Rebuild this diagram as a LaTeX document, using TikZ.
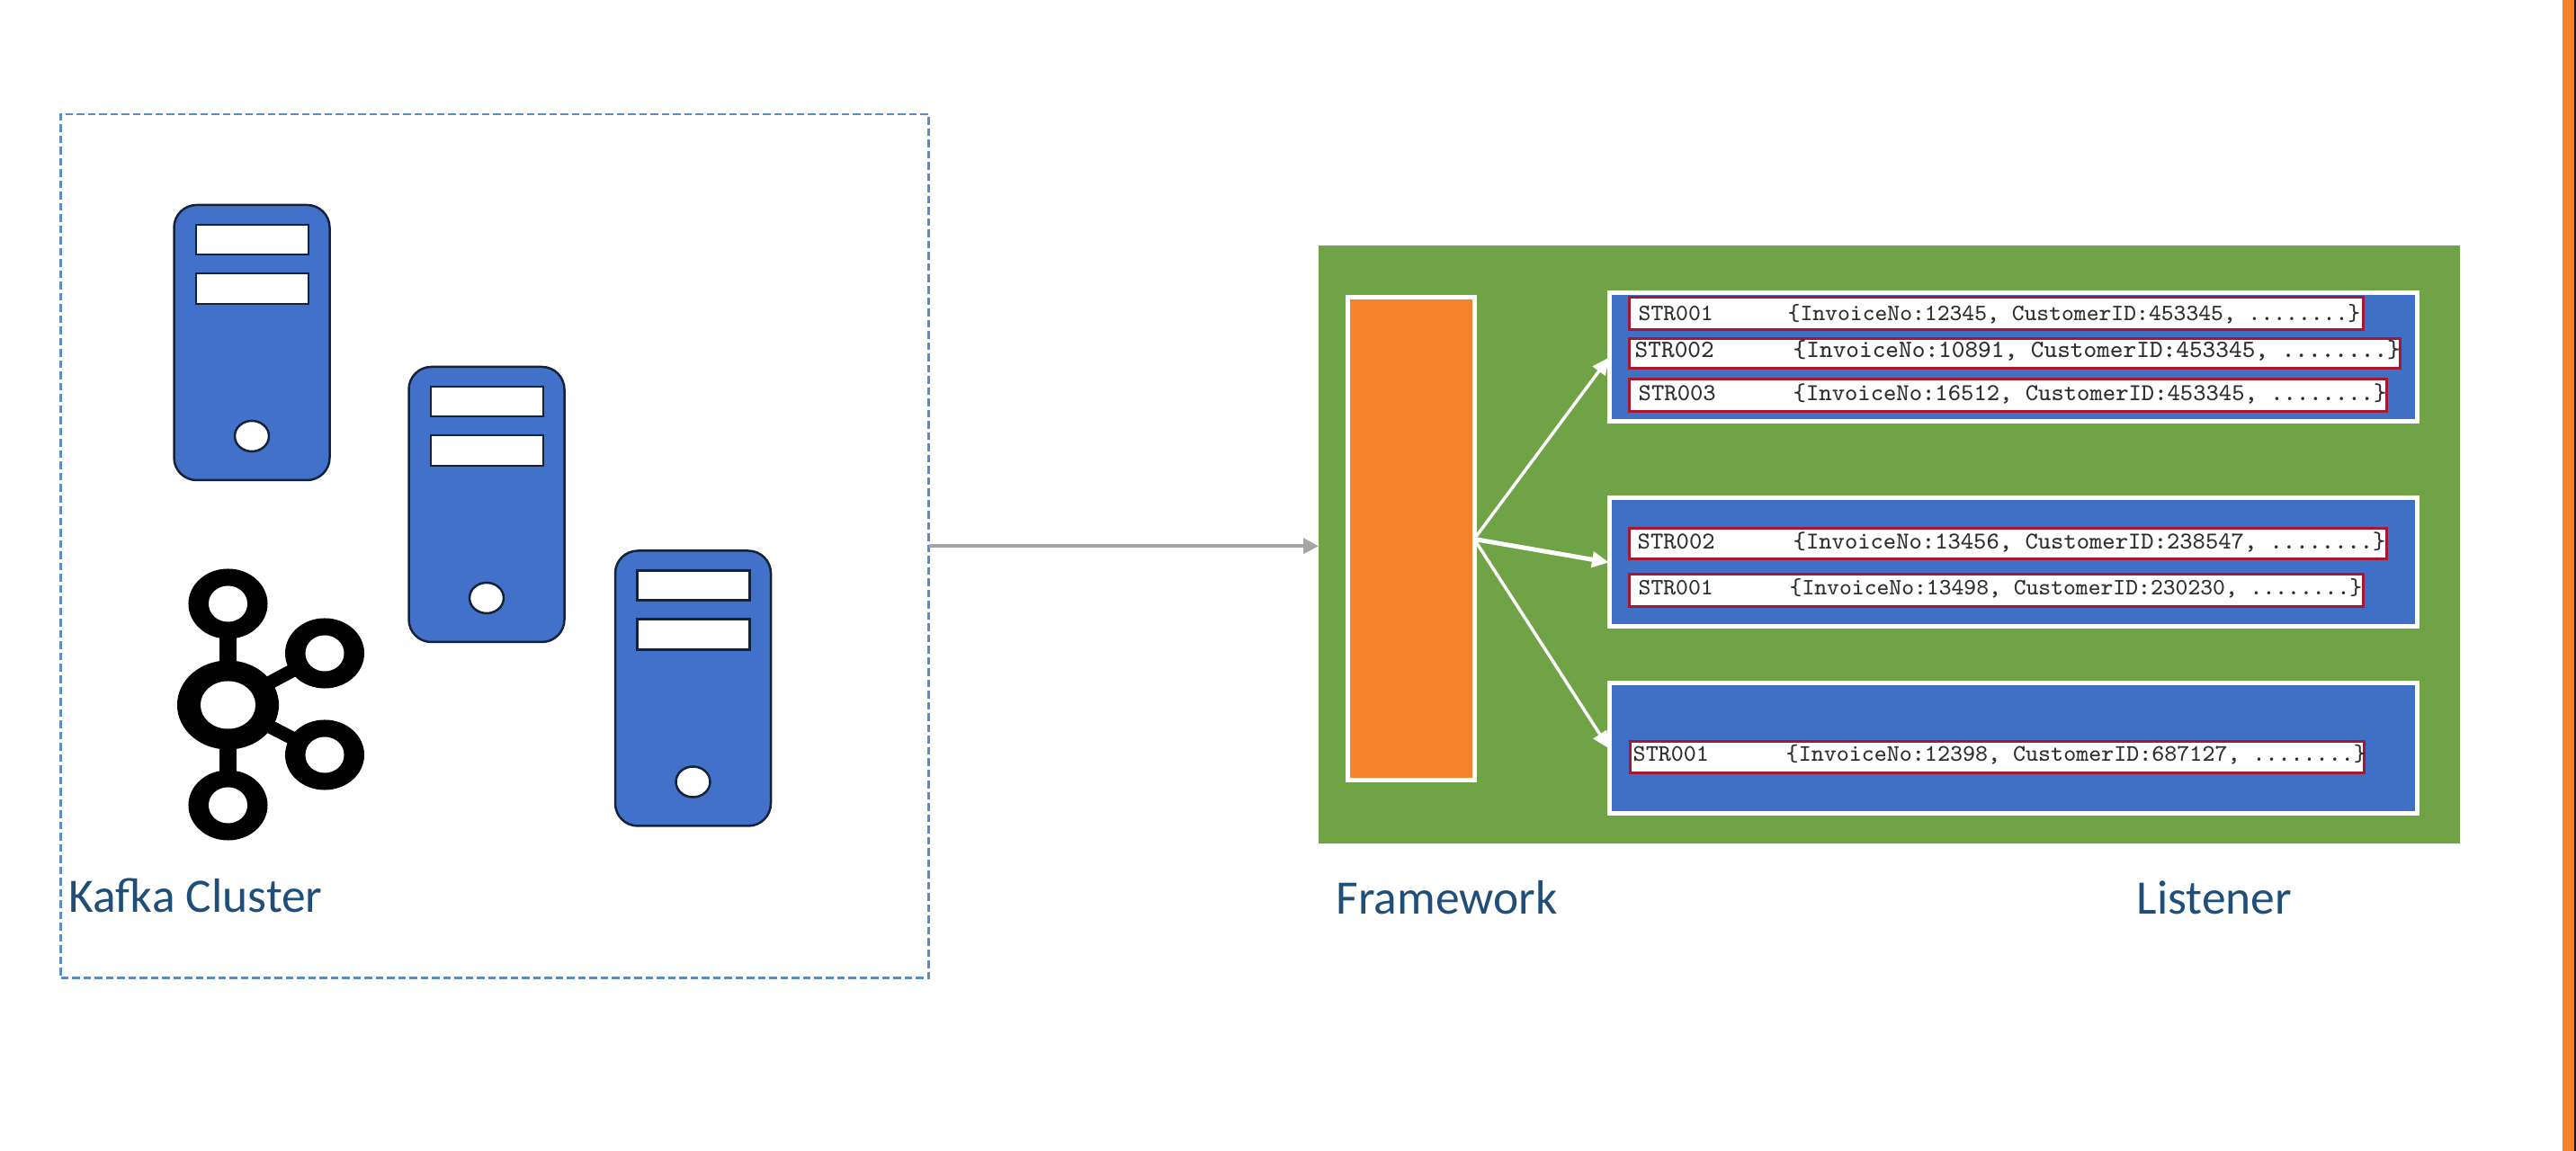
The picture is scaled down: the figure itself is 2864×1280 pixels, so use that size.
\documentclass[tikz,border=0pt]{standalone}
\usepackage{fontspec}
\setmainfont{Carlito}
\usetikzlibrary{arrows.meta,shapes.geometric,backgrounds}
\definecolor{srvblue}{HTML}{4171C8}
\definecolor{boxblue}{HTML}{3F70C6}
\definecolor{fwgreen}{HTML}{70A345}
\definecolor{fworange}{HTML}{F6822B}
\definecolor{dashblue}{HTML}{5B8CC8}
\definecolor{labelblue}{HTML}{1F4E79}
\definecolor{rowred}{HTML}{A5182F}
\definecolor{rowtext}{HTML}{2E2E2E}
\definecolor{flowgrey}{HTML}{A6A6A6}
\definecolor{srvline}{HTML}{15233A}
\definecolor{edgedark}{HTML}{2A1608}
\tikzset{
  px/.style={line width=#1*0.01cm},
  plain/.style={rectangle,inner sep=0pt,outer sep=0pt},
  cluster/.style={plain,draw=dashblue,px=2.2,dash pattern=on 0.085cm off 0.04cm},
  greenbg/.style={plain,fill=fwgreen},
  frameworkbar/.style={plain,fill=fworange,draw=white,px=5},
  listenerbox/.style={plain,fill=boxblue,draw=white,px=5},
  recordbox/.style={plain,fill=white,draw=rowred,px=3.5},
  sidebar/.style={plain,fill=fworange},
  sideedge/.style={plain,fill=edgedark},
  server/.style={plain,fill=srvblue,draw=srvline,px=2.5,rounded corners=0.25cm},
  slot/.style={plain,fill=white,draw=srvline,px=2.5},
  knob/.style={ellipse,inner sep=0pt,outer sep=0pt,fill=white,draw=srvline,px=2.5},
  logoblob/.style={ellipse,inner sep=0pt,outer sep=0pt,fill=black},
  logohole/.style={ellipse,inner sep=0pt,outer sep=0pt,fill=white},
  hub/.style={logoblob,minimum width=1.13cm,minimum height=0.99cm},
  hubhole/.style={logohole,minimum width=0.61cm,minimum height=0.53cm},
  spoke/.style={logoblob,minimum width=0.88cm,minimum height=0.78cm},
  spokehole/.style={logohole,minimum width=0.43cm,minimum height=0.40cm},
  caption/.style={inner sep=0pt,anchor=base west,text=labelblue,font=\fontsize{15.2}{17}\selectfont},
  flow/.style={draw=flowgrey,px=3.5,-{Triangle[length=0.17cm,width=0.17cm]}},
  fan/.style={draw=white,px=#1,-{Triangle[length=0.19cm,width=0.17cm]}},
}
% rectangular named node from its corners: name, style, x1, y1, x2, y2
\newcommand\cornerbox[6]{\node[#2,minimum width={(#5-#3)*0.01cm},minimum height={(#6-#4)*0.01cm}] (#1) at ({(#3+#5)/2},{(#4+#6)/2}) {};}
% the two texts of a record: name, id x, json x, baseline, font size pt, id, json
\newcommand\recordtext[7]{%
  \node[inner sep=0pt,anchor=base west,text=rowtext,font={\ttfamily\fontsize{#5}{8}\selectfont}] (#1id) at (#2,#4) {#6};
  \node[inner sep=0pt,anchor=base west,text=rowtext,font={\ttfamily\fontsize{#5}{8}\selectfont}] (#1data) at (#3,#4) {#7};}
% a server: name, dx, dy
\newcommand\serverat[3]{%
  \begin{scope}[shift={(#2,#3)}]
    \cornerbox{#1}{server}{193.5}{228}{366.5}{534}
    \cornerbox{#1a}{slot}{218}{250}{343}{283}
    \cornerbox{#1b}{slot}{218}{304}{343}{338}
    \node[knob,minimum width=0.38cm,minimum height=0.34cm] (#1c) at (280,485) {};
  \end{scope}}
\begin{document}
\begin{tikzpicture}[x=0.01cm,y=-0.01cm]
\useasboundingbox (0,0) rectangle (2864,1280);
\cornerbox{sidebar}{sidebar}{2849}{0}{2862}{1280}
\cornerbox{sideedge}{sideedge}{2862}{0}{2864}{1280}
% Kafka cluster
\cornerbox{clusterbox}{cluster}{67.5}{127}{1032.5}{1087.5}
\serverat{srvA}{0}{0}
\serverat{srvB}{261}{180}
\serverat{srvC}{490.5}{384.5}
% Kafka logo
\node[hub] (hub) at (253.5,784) {};
\node[spoke] (top) at (253.5,671.5) {};
\node[spoke] (rtop) at (361,726.5) {};
\node[spoke] (rbot) at (361,839.5) {};
\node[spoke] (bot) at (253.5,895.5) {};
\begin{scope}[on background layer]
  \draw[px=19] (hub.center) -- (top.center);
  \draw[px=19] (hub.center) -- (bot.center);
  \draw[px=15] (hub.center) -- (rtop.center);
  \draw[px=15] (hub.center) -- (rbot.center);
\end{scope}
\node[hubhole] (hubh) at (hub.center) {};
\node[spokehole] (toph) at (top.center) {};
\node[spokehole] (rtoph) at (rtop.center) {};
\node[spokehole] (rboth) at (rbot.center) {};
\node[spokehole] (both) at (bot.center) {};
\node[caption] (kafkalabel) at (76,1015) {Kafka Cluster};
% Framework
\cornerbox{green}{greenbg}{1466}{273}{2735}{938}
\cornerbox{bar}{frameworkbar}{1498}{331}{1639}{868}
\cornerbox{boxA}{listenerbox}{1789}{326}{2687}{469}
\cornerbox{boxB}{listenerbox}{1789}{554}{2687}{697}
\cornerbox{boxC}{listenerbox}{1789}{760}{2687}{905}
\cornerbox{recA}{recordbox}{1811.5}{330.5}{2627.5}{366.5}
\cornerbox{recB}{recordbox}{1811.5}{376.5}{2668.5}{409.5}
\cornerbox{recC}{recordbox}{1811.5}{421.5}{2653.5}{457.5}
\cornerbox{recD}{recordbox}{1811.5}{587.5}{2653.5}{621.5}
\cornerbox{recE}{recordbox}{1811.5}{638.5}{2627.5}{674.5}
\cornerbox{recF}{recordbox}{1812.5}{824.5}{2628.5}{859.5}
\recordtext{txtA}{1821}{1987}{356.5}{7.41}{STR001}{\{InvoiceNo:12345, CustomerID:453345, ........\}}
\recordtext{txtB}{1817}{1993}{398}{7.86}{STR002}{\{InvoiceNo:10891, CustomerID:453345, ........\}}
\recordtext{txtC}{1821}{1993}{445.5}{7.68}{STR003}{\{InvoiceNo:16512, CustomerID:453345, ........\}}
\recordtext{txtD}{1820}{1993}{611}{7.67}{STR002}{\{InvoiceNo:13456, CustomerID:238547, ........\}}
\recordtext{txtE}{1821}{1989}{662}{7.41}{STR001}{\{InvoiceNo:13498, CustomerID:230230, ........\}}
\recordtext{txtF}{1815}{1985}{846.5}{7.51}{STR001}{\{InvoiceNo:12398, CustomerID:687127, ........\}}
% connectors
\draw[flow] (clusterbox.east) -- (clusterbox.east -| green.west);
\draw[fan=3.5] (bar.east) -- (boxA.west);
\draw[fan=5] (bar.east) -- (boxB.west);
\draw[fan=3.5] (bar.east) -- (boxC.west);
\node[caption] (fwlabel) at (1485,1017) {Framework};
\node[caption] (listenerlabel) at (2375,1017) {Listener};
\end{tikzpicture}
\end{document}
